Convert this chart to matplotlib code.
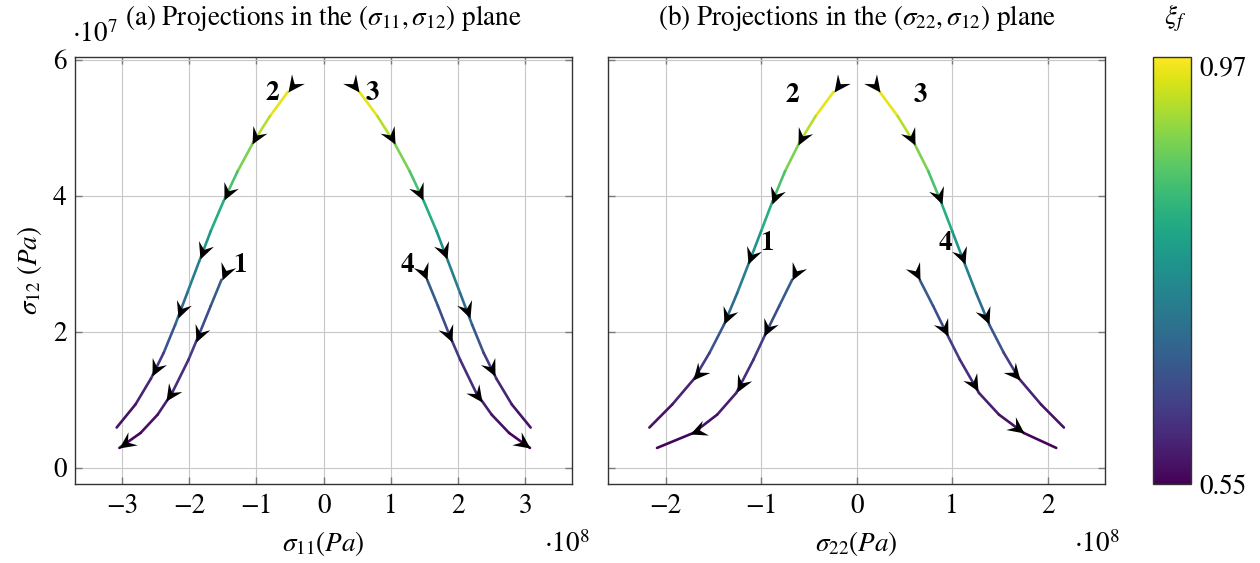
import numpy as np
import matplotlib
matplotlib.use('Agg')
import matplotlib.pyplot as plt
from matplotlib.collections import LineCollection
from matplotlib.markers import MarkerStyle
from matplotlib.path import Path
from matplotlib.transforms import Affine2D
from matplotlib import cm, colors

plt.rcParams['font.family'] = ['STIXGeneral', 'DejaVu Serif']
plt.rcParams['mathtext.fontset'] = 'stix'

# ---------------- data (sigma11, sigma22 in 1e8 Pa; sigma12 in 1e7 Pa) -------------
# upper branches (from points 2 / 3 down to the bottom)
s12_upper = [5.53, 5.17, 4.78, 4.36, 3.92, 3.48, 3.04, 2.57, 2.10, 1.69, 1.31, 0.93, 0.59]
xi_upper = [0.97, 0.94, 0.905, 0.87, 0.83, 0.79, 0.75, 0.71, 0.68, 0.645, 0.605, 0.58, 0.56]
s11_upper_left = [-0.53, -0.80, -1.05, -1.28, -1.49, -1.68, -1.85, -2.03, -2.21, -2.38, -2.57, -2.80, -3.08]
s11_upper_right = [0.53, 0.80, 1.05, 1.28, 1.49, 1.68, 1.85, 2.03, 2.21, 2.38, 2.57, 2.80, 3.08]
s22_upper_left = [-0.24, -0.43, -0.60, -0.75, -0.88, -1.00, -1.12, -1.25, -1.39, -1.54, -1.70, -1.93, -2.17]
s22_upper_right = [0.24, 0.43, 0.60, 0.75, 0.88, 1.00, 1.12, 1.25, 1.39, 1.54, 1.70, 1.93, 2.17]

# lower branches (from points 1 / 4 down to the bottom)
s12_lower = [2.765, 2.38, 1.98, 1.59, 1.10, 0.78, 0.51, 0.29]
xi_lower = [0.68, 0.66, 0.635, 0.615, 0.595, 0.575, 0.56, 0.55]
s11_lower_left = [-1.52, -1.68, -1.845, -2.01, -2.255, -2.47, -2.725, -3.04]
s11_lower_right = [1.54, 1.70, 1.86, 2.03, 2.27, 2.50, 2.76, 3.07]
s22_lower_left = [-0.675, -0.81, -0.95, -1.08, -1.26, -1.46, -1.71, -2.09]
s22_lower_right = [0.66, 0.80, 0.94, 1.08, 1.28, 1.49, 1.75, 2.09]

xi_min, xi_max = 0.55, 0.97
x_ticks_a = [-3, -2, -1, 0, 1, 2, 3]
x_ticks_b = [-2, -1, 0, 1, 2]
y_ticks = [0, 2, 4, 6]

# point labels: (text, x, y)
labels_a = [('2', -0.76, 5.51), ('3', 0.73, 5.51), ('1', -1.25, 2.98), ('4', 1.25, 2.98)]
labels_b = [('2', -0.675, 5.48), ('3', 0.665, 5.48), ('1', -0.94, 3.30), ('4', 0.93, 3.30)]

FS = 19.5

# ---------------- figure -------------
W, H = 1260, 563
fig = plt.figure(figsize=(W / 100, H / 100), dpi=100)

def fx(px):
    return px / W

def fy(py):
    return 1 - py / H

ax_top, ax_bot = 56.7, 484.3
axA = fig.add_axes([fx(75), fy(ax_bot), fx(572.3 - 75), (ax_bot - ax_top) / H])
axB = fig.add_axes([fx(608.3), fy(ax_bot), fx(1105 - 608.3), (ax_bot - ax_top) / H])
cax = fig.add_axes([fx(1153), fy(ax_bot), fx(1191 - 1153), (ax_bot - ax_top) / H])

norm = colors.Normalize(xi_min, xi_max)
cmap = plt.get_cmap('viridis')

arrow_path = Path([(0, 0), (-1, 0.48), (-0.62, 0), (-1, -0.48), (0, 0)],
                  [Path.MOVETO, Path.LINETO, Path.LINETO, Path.LINETO, Path.CLOSEPOLY])

def draw_branch(ax, xs, ys, xi, fracs):
    xs = np.asarray(xs, float)
    ys = np.asarray(ys, float)
    xi = np.asarray(xi, float)
    pts = np.column_stack([xs, ys])
    segs = np.stack([pts[:-1], pts[1:]], axis=1)
    lc = LineCollection(segs, cmap=cmap, norm=norm, linewidths=1.9,
                        capstyle='round', joinstyle='round', zorder=3)
    lc.set_array(0.5 * (xi[:-1] + xi[1:]))
    ax.add_collection(lc)
    disp = ax.transData.transform(pts)
    d = np.diff(disp, axis=0)
    seglen = np.hypot(d[:, 0], d[:, 1])
    cum = np.concatenate([[0], np.cumsum(seglen)])
    total = cum[-1]
    for f in fracs:
        L = f * total
        i = min(np.searchsorted(cum, L, side='right') - 1, len(seglen) - 1)
        t = (L - cum[i]) / seglen[i]
        p = disp[i] + t * d[i]
        ang = np.degrees(np.arctan2(d[i, 1], d[i, 0]))
        pd = ax.transData.inverted().transform(p)
        m = MarkerStyle(arrow_path, transform=Affine2D().rotate_deg(ang))
        ax.plot([pd[0]], [pd[1]], ls='none', marker=m, ms=24, color='k',
                mec='k', mew=0, zorder=5, clip_on=False)

fr_up = [0, 1 / 6, 2 / 6, 3 / 6, 4 / 6, 5 / 6]

for ax, xlim, xt in [(axA, (-3.7, 3.7), x_ticks_a), (axB, (-2.6, 2.6), x_ticks_b)]:
    ax.set_xlim(*xlim)
    ax.set_ylim(-0.245, 6.045)
    ax.set_xticks(xt)
    ax.set_yticks(y_ticks)
    ax.set_xticklabels([('\u2212%d' % -v) if v < 0 else '%d' % v for v in xt])
    ax.grid(True, color='#c8c8c8', lw=0.8, zorder=0)
    ax.set_axisbelow(True)
    ax.tick_params(direction='in', length=5, width=1, color='#7a7a7a',
                   top=True, right=True, labelsize=FS)
    ax.tick_params(axis='x', pad=7)
    ax.tick_params(axis='y', pad=6)
    for s in ax.spines.values():
        s.set_color('#333333')
        s.set_linewidth(1.0)

axB.set_yticklabels([])
axA.set_yticklabels(['0', '2', '4', '6'])

draw_branch(axA, s11_upper_left, s12_upper, xi_upper, fr_up)
draw_branch(axA, s11_upper_right, s12_upper, xi_upper, fr_up)
draw_branch(axA, s11_lower_left, s12_lower, xi_lower, [0, 1 / 3, 2 / 3, 1])
draw_branch(axA, s11_lower_right, s12_lower, xi_lower, [0, 1 / 3, 2 / 3, 1])

draw_branch(axB, s22_upper_left, s12_upper, xi_upper, fr_up)
draw_branch(axB, s22_upper_right, s12_upper, xi_upper, fr_up)
draw_branch(axB, s22_lower_left, s12_lower, xi_lower, [0, 0.28, 0.56, 0.84])
draw_branch(axB, s22_lower_right, s12_lower, xi_lower, [0, 0.28, 0.56, 0.84])

for ax, labs in [(axA, labels_a), (axB, labels_b)]:
    for t, x, y in labs:
        ax.text(x, y, t, fontsize=FS, fontweight='bold', ha='center', va='center', zorder=6)

fig.text(fx(323), fy(18), r'(a) Projections in the $(\sigma_{11},\sigma_{12})$ plane',
         fontsize=FS, ha='center', va='center')
fig.text(fx(857), fy(18), r'(b) Projections in the $(\sigma_{22},\sigma_{12})$ plane',
         fontsize=FS, ha='center', va='center')

axA.text(0.5, (ax_bot - 543) / (ax_bot - ax_top), r'$\sigma_{11}(Pa)$', transform=axA.transAxes,
         ha='center', va='center', fontsize=FS)
axB.text(0.5, (ax_bot - 543) / (ax_bot - ax_top), r'$\sigma_{22}(Pa)$', transform=axB.transAxes,
         ha='center', va='center', fontsize=FS)
axA.text((30 - 75) / (572.3 - 75), 0.5, r'$\sigma_{12}\ (Pa)$', transform=axA.transAxes,
         ha='center', va='center', rotation=90, fontsize=FS)

fig.text(fx(95), fy(35), r'$\cdot 10^{7}$', ha='center', va='center', fontsize=FS)
fig.text(fx(567), fy(545), r'$\cdot 10^{8}$', ha='center', va='center', fontsize=FS)
fig.text(fx(1097), fy(545), r'$\cdot 10^{8}$', ha='center', va='center', fontsize=FS)

sm = cm.ScalarMappable(norm=norm, cmap=cmap)
cb = fig.colorbar(sm, cax=cax, ticks=[xi_min, xi_max])
cb.ax.set_yticklabels(['0.55', '0.97'])
cb.ax.tick_params(length=0, labelsize=FS, pad=6)
tl = cb.ax.get_yticklabels()
tl[1].set_va('top')
cb.outline.set_edgecolor('#333333')
cb.outline.set_linewidth(1.0)
fig.text(fx(1175), fy(18), r'$\xi_f$', ha='center', va='center', fontsize=FS)

fig.savefig('out.png', dpi=100)
